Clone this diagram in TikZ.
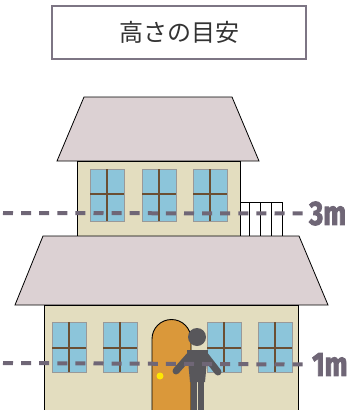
\documentclass[tikz,border=0pt]{standalone}
\usepackage{graphicx}
\usepackage{fontspec}
\newfontfamily\jpfont{Noto Sans CJK JP}
\newfontfamily\markfont{Fira Sans}[BoldFeatures={FakeBold=3}]
\usetikzlibrary{positioning}

\definecolor{roofpink}{HTML}{DCD1D3}
\definecolor{wallbeige}{HTML}{E3DDBF}
\definecolor{glassblue}{HTML}{8CC5DA}
\definecolor{framebrown}{HTML}{6B4F33}
\definecolor{doororange}{HTML}{DA983A}
\definecolor{mangray}{HTML}{58575B}
\definecolor{markgray}{HTML}{6F6676}

\tikzstyle{titlebox} =
[
	rectangle,
	minimum width = 254pt,
	minimum height = 53pt,
	draw = markgray!90,
	line width = 1.3pt,
	fill = white,
	text = black!80,
	font = \jpfont\fontsize{24}{24}\selectfont
]
\tikzstyle{roof} = [fill=roofpink, draw=black, line width=0.8pt]
\tikzstyle{wall} = [fill=wallbeige, draw=black, line width=0.8pt]
\tikzstyle{pane} = [fill=glassblue, draw=gray!80, line width=0.6pt]
\tikzstyle{mullion} = [framebrown, line width=1.3pt]
\tikzstyle{heightline} = [markgray, line width=4pt, dash pattern=on 10pt off 8.1pt]
\tikzstyle{heightlabel} =
[
	inner sep = 0pt,
	anchor = west,
	text = markgray,
	font = \markfont\bfseries\fontsize{27}{27}\selectfont
]

\begin{document}
\begin{tikzpicture}[x=1pt, y=-1pt]
	\useasboundingbox (0,0) rectangle (363,410);

	\node
	(Title)
	[titlebox]
	at (179,32.5)
	{高さの目安};

	% upper floor
	\draw [roof] (84,97) -- (232,97) -- (259,161) -- (57,161) -- cycle;
	\draw [wall] (77,161) rectangle (240,236);
	\foreach \x in {90,142,193}
	{
		\draw [pane] (\x,169) rectangle ++(34,52);
		\draw [mullion] (\x+17,169) -- ++(0,52);
		\draw [mullion] (\x,194) -- ++(34,0);
	}

	% balcony rail
	\draw [fill=white, line width=0.8pt] (240,202) rectangle (282,236);
	\foreach \x in {249,260,271}
		\draw [line width=0.8pt] (\x,202) -- (\x,236);

	% ground floor
	\draw [roof] (43,236) -- (299,236) -- (328,305) -- (15,305) -- cycle;
	\draw [wall] (44,410) -- (44,305) -- (298,305) -- (298,410);
	\foreach \x in {52,103,207,258}
	{
		\draw [pane] (\x,322) rectangle ++(34,50);
		\draw [mullion] (\x+17,322) -- ++(0,50);
		\draw [mullion] (\x,348) -- ++(34,0);
	}

	% door (y runs downwards, so the arc turns through 270)
	\draw [fill=doororange, draw=black, line width=0.9pt]
		(152,411) -- (152,339) arc[start angle=180, end angle=360, radius=19.5] -- (191,411);
	\fill [yellow!90!orange] (160,376) circle (3.5pt);

	% person
	\begin{scope}[mangray]
		\fill (197,337) circle (9pt);
		\draw [line width=7pt, line cap=round] (191,354) -- (176,371);
		\draw [line width=7pt, line cap=round] (204,354) -- (218,372);
		\fill (187,350) -- (208,350) -- (205,382) -- (190,382) -- cycle;
		\fill (190.5,378) rectangle (196.5,411);
		\fill (197.5,378) rectangle (204,411);
	\end{scope}

	% height marks
	\node (ThreeMeter) [heightlabel] at (309,213.5) {\scalebox{1}[1.25]{3m}};
	\node (OneMeter) [heightlabel] at (312,364.5) {\scalebox{1}[1.25]{1m}};
	\coordinate (ThreeStart) at (3,213);
	\coordinate (OneStart) at (3,363);

	\draw [heightline] (ThreeStart) -- ([xshift=-4pt]ThreeMeter.west);
	\draw [heightline] (OneStart) -- ([xshift=-6pt]OneMeter.west);
\end{tikzpicture}
\end{document}
